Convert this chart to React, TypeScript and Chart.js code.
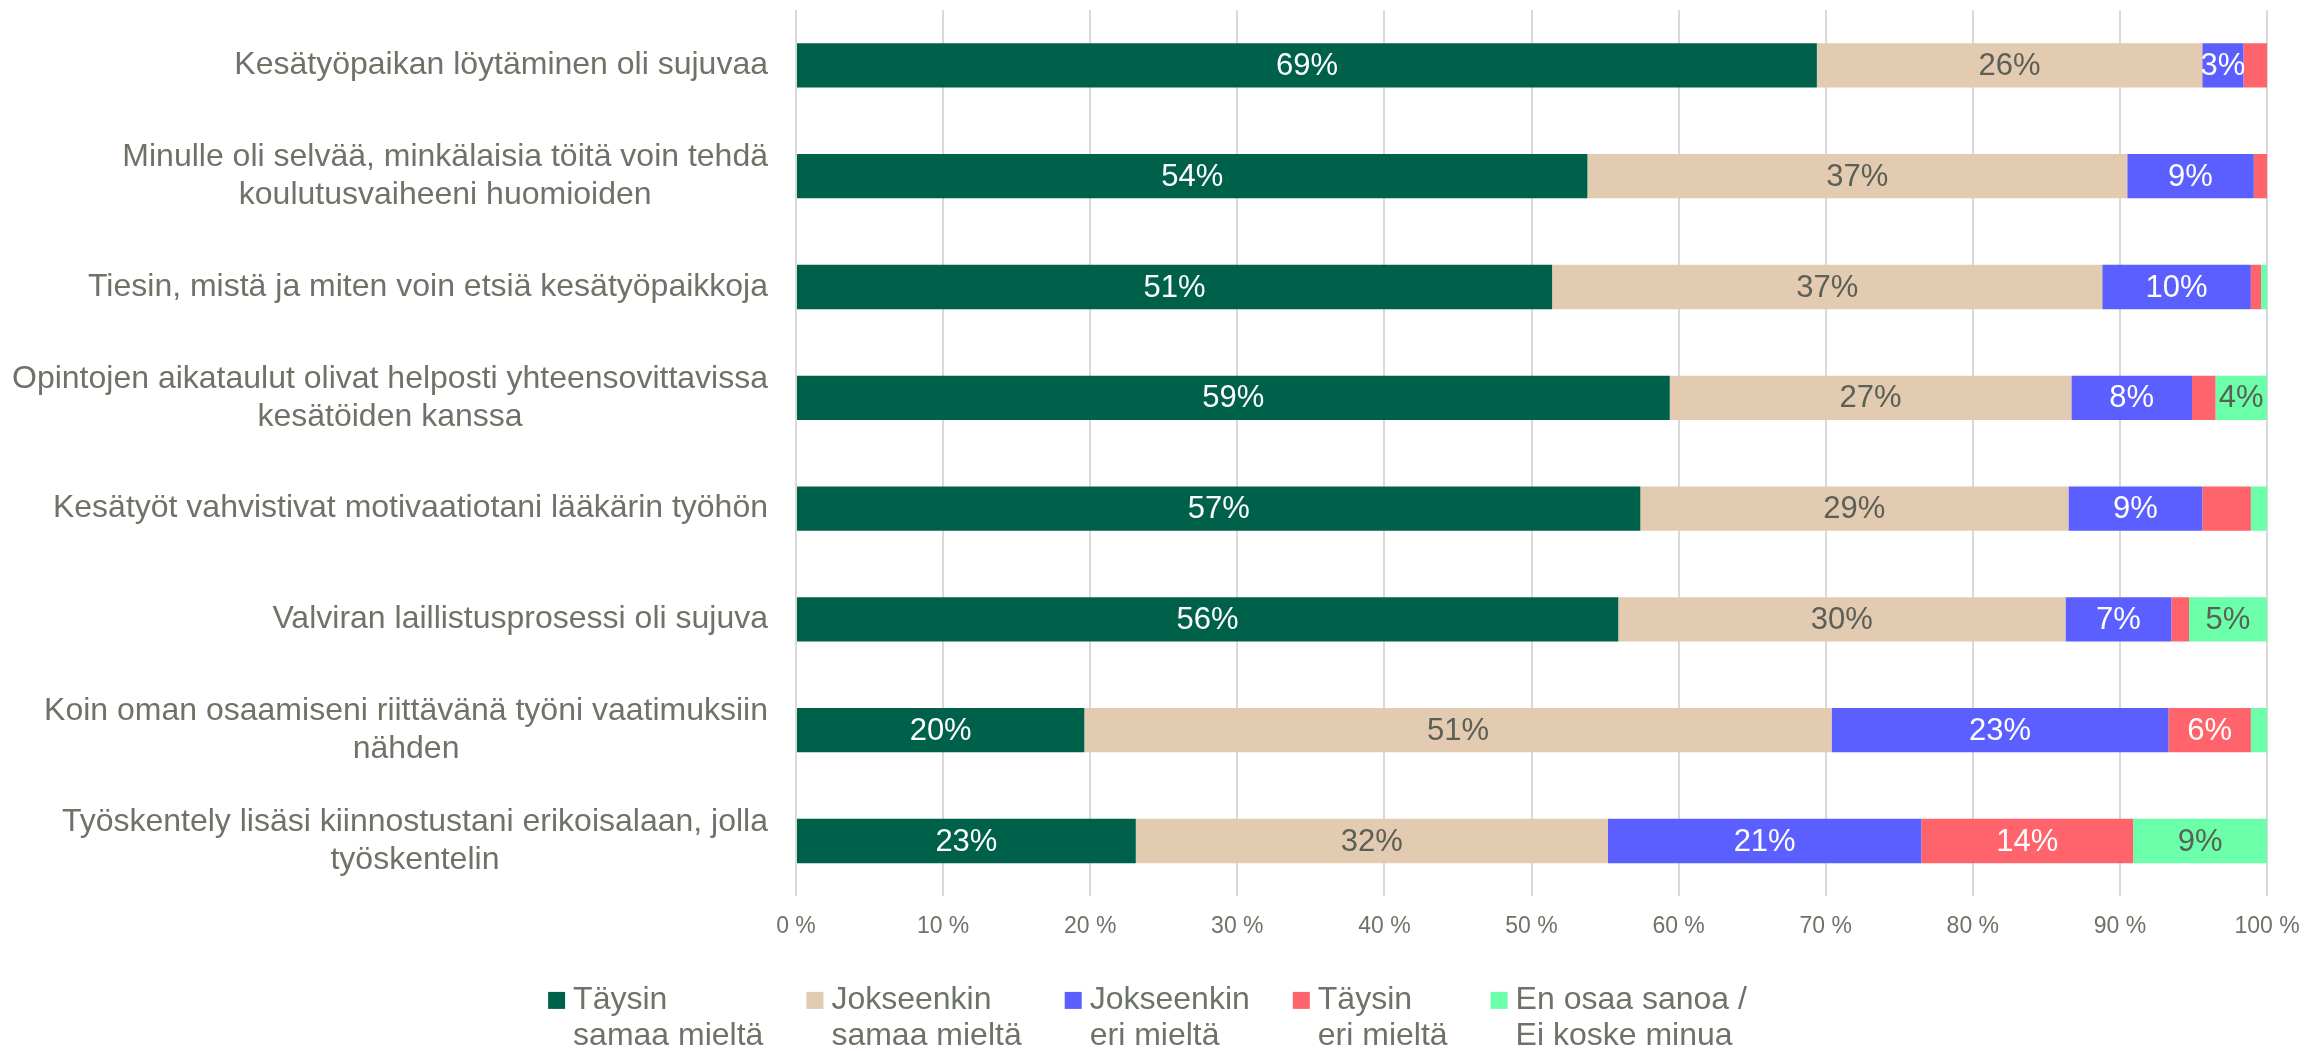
import React, { useEffect, useRef } from "react";
import { Chart, registerables } from "chart.js";

Chart.register(...registerables);

const categories: string[][] = [
  ["Kesätyöpaikan löytäminen oli sujuvaa"],
  ["Minulle oli selvää, minkälaisia töitä voin tehdä", "koulutusvaiheeni huomioiden"],
  ["Tiesin, mistä ja miten voin etsiä kesätyöpaikkoja"],
  ["Opintojen aikataulut olivat helposti yhteensovittavissa", "kesätöiden kanssa"],
  ["Kesätyöt vahvistivat motivaatiotani lääkärin työhön"],
  ["Valviran laillistusprosessi oli sujuva"],
  ["Koin oman osaamiseni riittävänä työni vaatimuksiin", "nähden"],
  ["Työskentely lisäsi kiinnostustani erikoisalaan, jolla", "työskentelin"],
];

const seriesNames: string[][] = [
  ["Täysin", "samaa mieltä"],
  ["Jokseenkin", "samaa mieltä"],
  ["Jokseenkin", "eri mieltä"],
  ["Täysin", "eri mieltä"],
  ["En osaa sanoa /", "Ei koske minua"],
];

const taysinSamaa = [69.4, 53.8, 51.4, 59.4, 57.4, 55.9, 19.6, 23.1];
const jokseenkinSamaa = [26.2, 36.7, 37.4, 27.3, 29.1, 30.4, 50.8, 32.1];
const jokseenkinEri = [2.8, 8.6, 10.1, 8.2, 9.1, 7.2, 22.9, 21.3];
const taysinEri = [1.6, 0.9, 0.7, 1.6, 3.3, 1.2, 5.6, 14.4];
const eiOsaa = [0, 0, 0.4, 3.5, 1.1, 5.3, 1.1, 9.1];

// smallest value that gets a data label, per series
const labelMin = [2.5, 2.5, 2.5, 4, 2.5];

const xTickValues = [0, 10, 20, 30, 40, 50, 60, 70, 80, 90, 100];

const seriesColors = ["#00614B", "#E2CBB1", "#5B5FFF", "#FF636B", "#6BFFA9"];
const labelColors = ["#FFFFFF", "#5B5F56", "#FFFFFF", "#FFFFFF", "#5B5F56"];
const TEXT = "#6E7368";
const FONT = '"Liberation Sans", Arial, sans-serif';

const W = 2307;
const H = 1051;

export default function App() {
  const ref = useRef<HTMLCanvasElement>(null);

  useEffect(() => {
    if (!ref.current) return;
    const values = [taysinSamaa, jokseenkinSamaa, jokseenkinEri, taysinEri, eiOsaa];

    const categoryLabels = {
      id: "categoryLabels",
      afterDraw(chart: any) {
        const ctx = chart.ctx;
        const y = chart.scales.y;
        const lh = 38;
        ctx.save();
        ctx.font = `32px ${FONT}`;
        ctx.fillStyle = TEXT;
        ctx.textAlign = "center";
        ctx.textBaseline = "middle";
        const right = chart.chartArea.left - 28;
        categories.forEach((lines, i) => {
          const yc = y.getPixelForValue(i);
          const maxW = Math.max(...lines.map((l) => ctx.measureText(l).width));
          lines.forEach((l, j) => {
            ctx.fillText(l, right - maxW / 2, yc + (j - (lines.length - 1) / 2) * lh);
          });
        });
        ctx.restore();
      },
    };

    const dataLabels = {
      id: "dataLabels",
      afterDatasetsDraw(chart: any) {
        const ctx = chart.ctx;
        ctx.save();
        ctx.font = `31px ${FONT}`;
        ctx.textAlign = "center";
        ctx.textBaseline = "middle";
        chart.data.datasets.forEach((ds: any, di: number) => {
          const meta = chart.getDatasetMeta(di);
          meta.data.forEach((bar: any, i: number) => {
            const v = ds.data[i];
            if (v < labelMin[di]) return;
            ctx.fillStyle = labelColors[di];
            ctx.fillText(Math.round(v) + "%", (bar.x + bar.base) / 2, bar.y + 1);
          });
        });
        ctx.restore();
      },
    };

    const customLegend = {
      id: "customLegend",
      afterDraw(chart: any) {
        const ctx = chart.ctx;
        ctx.save();
        ctx.font = `32px ${FONT}`;
        ctx.textBaseline = "middle";
        ctx.textAlign = "left";
        const box = 17;
        const boxGap = 8;
        const itemGap = 43;
        const widths = seriesNames.map(
          (lines) => box + boxGap + Math.max(...lines.map((l) => ctx.measureText(l).width))
        );
        const total = widths.reduce((a, b) => a + b, 0) + itemGap * (widths.length - 1);
        let x = (chart.width - total) / 2 - 6;
        const y1 = chart.chartArea.bottom + 104;
        const y2 = y1 + 36;
        seriesNames.forEach((lines, i) => {
          ctx.fillStyle = seriesColors[i];
          ctx.fillRect(x, y1 - box / 2, box, box);
          ctx.fillStyle = TEXT;
          ctx.fillText(lines[0], x + box + boxGap, y1);
          ctx.fillText(lines[1], x + box + boxGap, y2);
          x += widths[i] + itemGap;
        });
        ctx.restore();
      },
    };

    const chart = new Chart(ref.current, {
      type: "bar",
      data: {
        labels: categories.map((c) => c.join(" ")),
        datasets: values.map((d, i) => ({
          label: seriesNames[i].join(" "),
          data: d,
          backgroundColor: seriesColors[i],
          borderWidth: 0,
          barPercentage: 0.5,
          categoryPercentage: 0.8,
        })),
      },
      options: {
        indexAxis: "y",
        responsive: false,
        animation: false,
        devicePixelRatio: 1,
        layout: { padding: { left: 0, right: 40, top: 10, bottom: 111 } },
        plugins: { legend: { display: false }, tooltip: { enabled: false } },
        scales: {
          x: {
            stacked: true,
            min: 0,
            max: 100,
            afterBuildTicks: (scale: any) => {
              scale.ticks = xTickValues.map((v) => ({ value: v }));
            },
            ticks: {
              callback: (v: any) => v + " %",
              color: TEXT,
              font: { size: 23, family: FONT },
              padding: 0,
              maxRotation: 0,
            },
            grid: {
              color: "#D9D9D9",
              lineWidth: 2,
              drawTicks: true,
              tickLength: 16,
              tickColor: "rgba(0,0,0,0)",
            },
            border: { display: false },
          },
          y: {
            stacked: true,
            ticks: { display: false },
            grid: { display: false },
            border: { display: false },
            afterFit: (scale: any) => {
              scale.width = 796;
            },
          },
        },
      },
      plugins: [categoryLabels, dataLabels, customLegend],
    } as any);
    return () => chart.destroy();
  }, []);

  return (
    <div style={{ position: "fixed", left: 0, top: 0, width: W, height: H, background: "#fff" }}>
      <canvas ref={ref} width={W} height={H} style={{ width: W, height: H, display: "block" }} />
    </div>
  );
}
